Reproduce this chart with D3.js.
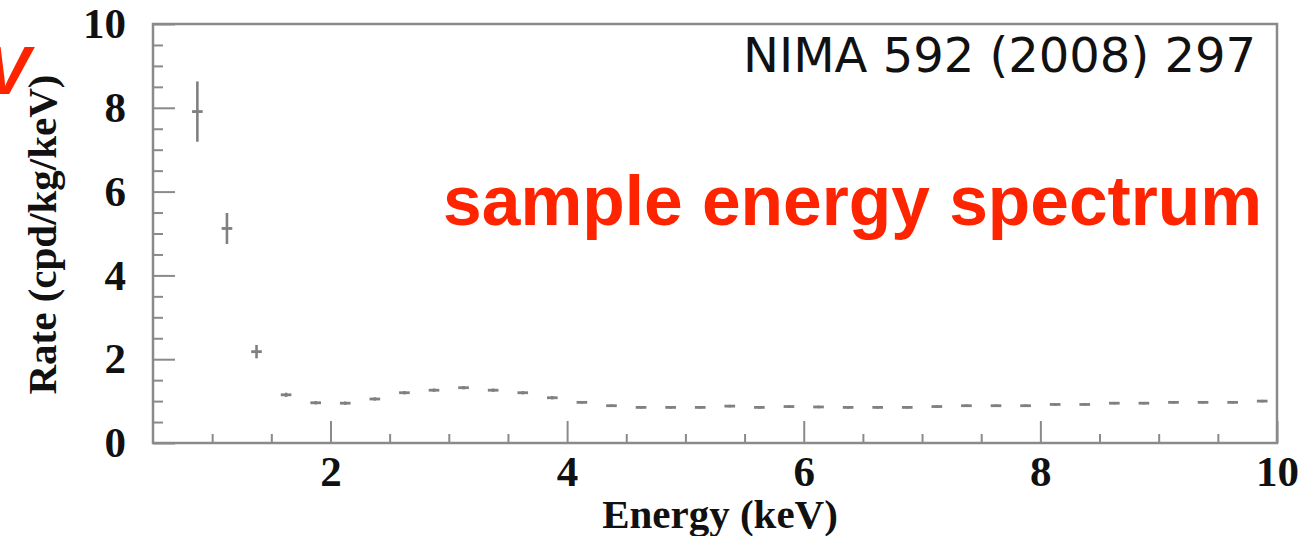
<!DOCTYPE html>
<html>
<head>
<meta charset="utf-8">
<script src="https://cdn.jsdelivr.net/npm/d3@7"></script>
<style>
  body { margin: 0; background: #fff; }
  svg { display: block; }
  .tickLabel text { font-family: "Liberation Serif", serif; font-weight: bold; font-size: 43px; fill: #111; }
  .aText { font-family: "Liberation Serif", serif; font-weight: bold; font-size: 41px; fill: #111; }
</style>
</head>
<body>
<div id="chart"></div>
<script>
// data
var energy = [0.875, 1.125, 1.375, 1.625, 1.875, 2.125, 2.375, 2.625, 2.875, 3.125,
  3.375, 3.625, 3.875, 4.125, 4.375, 4.625, 4.875, 5.125, 5.375, 5.625,
  5.875, 6.125, 6.375, 6.625, 6.875, 7.125, 7.375, 7.625, 7.875, 8.125,
  8.375, 8.625, 8.875, 9.125, 9.375, 9.625, 9.875];
var rate = [7.91, 5.12, 2.18, 1.15, 0.96, 0.95, 1.05, 1.20, 1.26, 1.32,
  1.26, 1.20, 1.08, 0.97, 0.89, 0.85, 0.85, 0.85, 0.88, 0.85,
  0.87, 0.86, 0.85, 0.85, 0.85, 0.87, 0.89, 0.89, 0.89, 0.92,
  0.92, 0.95, 0.95, 0.97, 0.97, 0.97, 1.00];
var rateErr = [0.72, 0.37, 0.16, 0.05, 0.04, 0.04, 0.04, 0.04, 0.04, 0.04,
  0.04, 0.04, 0.04, 0.03, 0.03, 0.03, 0.03, 0.03, 0.03, 0.03,
  0.03, 0.03, 0.03, 0.03, 0.03, 0.03, 0.03, 0.03, 0.03, 0.03,
  0.03, 0.03, 0.03, 0.03, 0.03, 0.03, 0.03];
var energyErr = 0.045;
var xTicks = [2, 4, 6, 8, 10];
var xMinorTicks = [1, 1.5, 2.5, 3, 3.5, 4.5, 5, 5.5, 6.5, 7, 7.5, 8.5, 9, 9.5];
var yTicks = [0, 2, 4, 6, 8, 10];
var yMinorTicks = [0.5, 1, 1.5, 2.5, 3, 3.5, 4.5, 5, 5.5, 6.5, 7, 7.5, 8.5, 9, 9.5];

// basic setup
var svgWidth = 1310;
var svgHeight = 536;
var margin = { top: 24, right: 33, bottom: 93, left: 153 };
var width = svgWidth - margin.left - margin.right;
var height = svgHeight - margin.top - margin.bottom;

var svg = d3.select("#chart")
  .append("svg")
  .attr("width", svgWidth)
  .attr("height", svgHeight);

var chartGroup = svg.append("g")
  .attr("transform", `translate(${margin.left}, ${margin.top})`);

var xScale = d3.scaleLinear().domain([0.5, 10]).range([0, width]);
var yScale = d3.scaleLinear().domain([0, 10]).range([height, 0]);

var frameColor = "#8a8a8a";

// frame
chartGroup.append("rect")
  .attr("x", 0).attr("y", 0)
  .attr("width", width).attr("height", height)
  .attr("fill", "none")
  .attr("stroke", frameColor)
  .attr("stroke-width", 2.5);

// minor ticks (inward)
chartGroup.append("g")
  .attr("transform", `translate(0, ${height})`)
  .call(d3.axisBottom(xScale).tickValues(xMinorTicks).tickSize(-9).tickFormat(""))
  .call(g => g.select(".domain").remove())
  .call(g => g.selectAll("line").attr("stroke", frameColor).attr("stroke-width", 2));

chartGroup.append("g")
  .call(d3.axisLeft(yScale).tickValues(yMinorTicks).tickSize(-10).tickFormat(""))
  .call(g => g.select(".domain").remove())
  .call(g => g.selectAll("line").attr("stroke", frameColor).attr("stroke-width", 2));

// major ticks + labels
chartGroup.append("g")
  .attr("class", "tickLabel")
  .attr("transform", `translate(0, ${height})`)
  .call(d3.axisBottom(xScale).tickValues(xTicks).tickSize(-22).tickPadding(12).tickFormat(d3.format("d")))
  .call(g => g.select(".domain").remove())
  .call(g => g.selectAll("line").attr("stroke", frameColor).attr("stroke-width", 2))
  .call(g => g.selectAll("text").attr("font-size", null).attr("font-family", null));

chartGroup.append("g")
  .attr("class", "tickLabel")
  .call(d3.axisLeft(yScale).tickValues(yTicks).tickSize(-22).tickPadding(27).tickFormat(d3.format("d")))
  .call(g => g.select(".domain").remove())
  .call(g => g.selectAll("line").attr("stroke", frameColor).attr("stroke-width", 2))
  .call(g => g.selectAll("text").attr("font-size", null).attr("font-family", null));

// data with error bars
var points = energy.map((e, i) => ({ e: e, r: rate[i], err: rateErr[i] }));

var pts = chartGroup.selectAll("g.pt")
  .data(points)
  .enter()
  .append("g")
  .attr("class", "pt");

pts.append("line")
  .attr("x1", d => xScale(d.e))
  .attr("x2", d => xScale(d.e))
  .attr("y1", d => yScale(d.r + d.err))
  .attr("y2", d => yScale(d.r - d.err))
  .attr("stroke", "#808080")
  .attr("stroke-width", 2.6);

pts.append("line")
  .attr("x1", d => xScale(d.e - energyErr))
  .attr("x2", d => xScale(d.e + energyErr))
  .attr("y1", d => yScale(d.r))
  .attr("y2", d => yScale(d.r))
  .attr("stroke", "#808080")
  .attr("stroke-width", 2.8);

// axis titles
svg.append("text")
  .attr("class", "aText")
  .attr("transform", `translate(56, ${margin.top + height / 2 + 1}) rotate(-90)`)
  .attr("text-anchor", "middle")
  .text("Rate (cpd/kg/keV)");

svg.append("text")
  .attr("class", "aText")
  .attr("x", 720)
  .attr("y", 528)
  .attr("text-anchor", "middle")
  .text("Energy (keV)");

// annotations
svg.append("text")
  .attr("x", 1256)
  .attr("y", 72)
  .attr("text-anchor", "end")
  .style("font-family", "DejaVu Sans, sans-serif")
  .style("font-size", "48px")
  .style("fill", "#111")
  .text("NIMA 592 (2008) 297");

svg.append("text")
  .attr("x", 1262)
  .attr("y", 225)
  .attr("text-anchor", "end")
  .style("font-family", "Liberation Sans, Arial, sans-serif")
  .style("font-weight", "bold")
  .style("font-size", "69.5px")
  .style("fill", "#ff2400")
  .text("sample energy spectrum");

svg.append("text")
  .attr("x", 30)
  .attr("y", 94)
  .attr("text-anchor", "end")
  .style("font-family", "Liberation Sans, Arial, sans-serif")
  .style("font-weight", "bold")
  .style("font-style", "italic")
  .style("font-size", "68px")
  .style("fill", "#ff2400")
  .text("keV");
</script>
</body>
</html>
